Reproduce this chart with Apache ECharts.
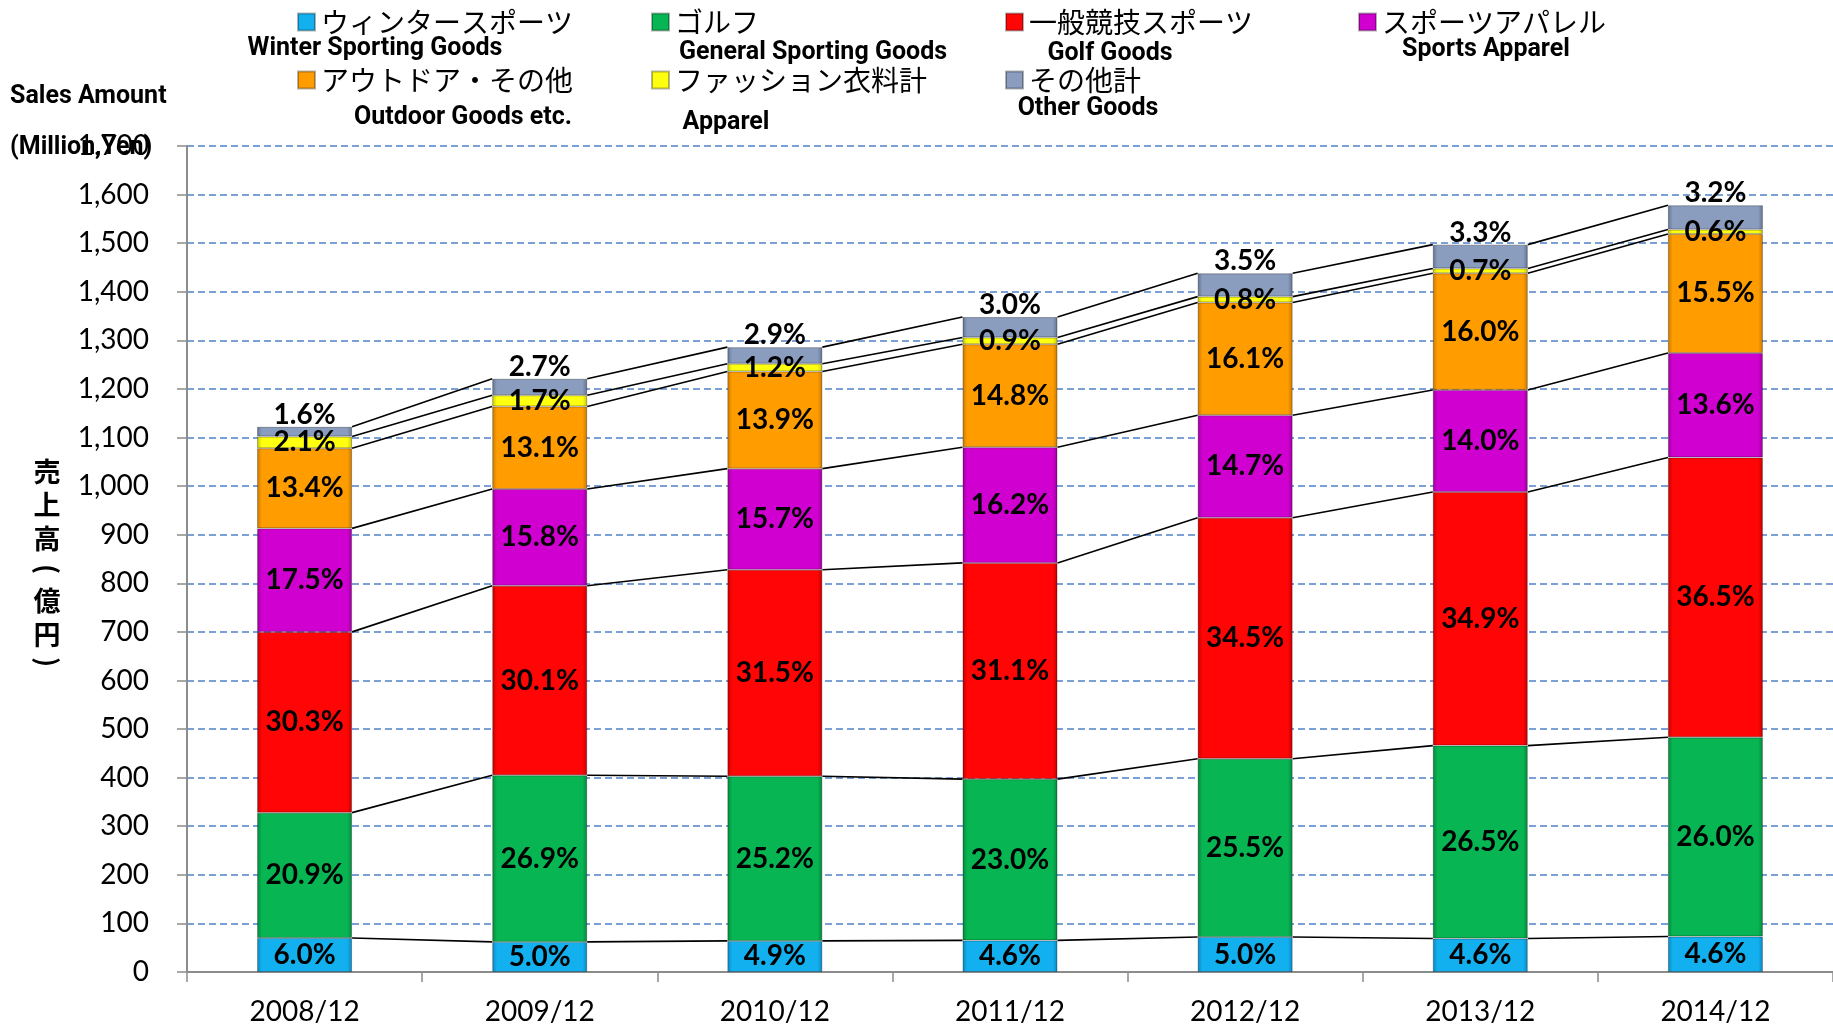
<!DOCTYPE html>
<html>
<head>
<meta charset="utf-8">
<title>売上高推移</title>
<script src="https://cdn.jsdelivr.net/npm/echarts@6/dist/echarts.min.js"></script>
<style>
  html, body { margin: 0; padding: 0; background: #fff; }
  #chart { width: 1833px; height: 1029px; }
</style>
</head>
<body>
<div id="chart"></div>
<script>
// 年度
var years = ['2008/12', '2009/12', '2010/12', '2011/12', '2012/12', '2013/12', '2014/12'];

// 売上高（億円） グラフの高さから読み取り
var winter  = [70, 62, 64, 65, 72, 69, 73];
var golf    = [258, 343, 339, 332, 367, 397, 410];
var general = [372, 390, 425, 445, 496, 522, 576];
var apparel = [213, 199, 208, 238, 211, 210, 215];
var outdoor = [165, 170, 200, 212, 232, 240, 245];
var fashion = [24, 23, 16, 14, 12, 10, 9];
var other   = [20, 34, 34, 42, 48, 49, 50];

// 構成比ラベル（%）
var pctWinter  = [6.0, 5.0, 4.9, 4.6, 5.0, 4.6, 4.6];
var pctGolf    = [20.9, 26.9, 25.2, 23.0, 25.5, 26.5, 26.0];
var pctGeneral = [30.3, 30.1, 31.5, 31.1, 34.5, 34.9, 36.5];
var pctApparel = [17.5, 15.8, 15.7, 16.2, 14.7, 14.0, 13.6];
var pctOutdoor = [13.4, 13.1, 13.9, 14.8, 16.1, 16.0, 15.5];
var pctFashion = [2.1, 1.7, 1.2, 0.9, 0.8, 0.7, 0.6];
var pctOther   = [1.6, 2.7, 2.9, 3.0, 3.5, 3.3, 3.2];

// y軸目盛
var yTicks = [0, 100, 200, 300, 400, 500, 600, 700, 800, 900, 1000, 1100, 1200, 1300, 1400, 1500, 1600, 1700];

var seriesNames = ['ウィンタースポーツ', 'ゴルフ', '一般競技スポーツ', 'スポーツアパレル', 'アウトドア・その他', 'ファッション衣料計', 'その他計'];
var englishNames = ['Winter Sporting Goods', 'General Sporting Goods', 'Golf Goods', 'Sports Apparel', 'Outdoor Goods etc.', 'Apparel', 'Other Goods'];

var values = [winter, golf, general, apparel, outdoor, fashion, other];
var pcts = [pctWinter, pctGolf, pctGeneral, pctApparel, pctOutdoor, pctFashion, pctOther];
var colors = [
  ['#12b0ee', '#0a86c0'],
  ['#07b553', '#05863c'],
  ['#ff0505', '#c20000'],
  ['#d000d0', '#9a009a'],
  ['#ff9d00', '#c97800'],
  ['#ffff10', '#c8c800'],
  ['#8a9dbf', '#62728f']
];

var barWidth = 95;

function bevel(c) {
  return new echarts.graphic.LinearGradient(0, 0, 1, 0, [
    { offset: 0, color: c[1] },
    { offset: 0.05, color: c[0] },
    { offset: 0.95, color: c[0] },
    { offset: 1, color: c[1] }
  ]);
}

var chart = echarts.init(document.getElementById('chart'));

var series = [];
values.forEach(function (arr, k) {
  series.push({
    name: seriesNames[k],
    type: 'bar',
    stack: 'total',
    barWidth: barWidth,
    data: arr,
    itemStyle: { color: bevel(colors[k]), borderColor: 'rgba(0,0,0,0.3)', borderWidth: 1 },
    label: {
      show: true,
      position: k === 6 ? 'top' : 'inside',
      distance: k === 6 ? -2 : 5,
      color: '#000',
      fontFamily: 'Lato',
      fontWeight: 'bold',
      fontSize: 28,
      formatter: function (p) { return pcts[k][p.dataIndex].toFixed(1) + '%'; }
    },
    z: 3
  });
});

// 系列線（各区分の上端を次の棒へ結ぶ）
var lineData = [];
var cum = years.map(function () { return 0; });
values.forEach(function (arr) {
  cum = cum.map(function (c, i) { return c + arr[i]; });
  for (var i = 0; i < years.length - 1; i++) {
    lineData.push([i, cum[i], cum[i + 1]]);
  }
});
series.push({
  type: 'custom',
  silent: true,
  encode: { x: 0, y: 1 },
  data: lineData,
  z: 2,
  renderItem: function (params, api) {
    var i = api.value(0);
    var p1 = api.coord([i, api.value(1)]);
    var p2 = api.coord([i + 1, api.value(2)]);
    return {
      type: 'line',
      shape: { x1: p1[0] + barWidth / 2, y1: p1[1], x2: p2[0] - barWidth / 2, y2: p2[1] },
      style: { stroke: '#000', lineWidth: 1.6 }
    };
  }
});

// 凡例（項目ごとに位置指定）
var legendPos = [[297, 6], [651, 6], [1005, 6], [1358, 6], [297, 64], [651, 64], [1005, 64]];
var legends = seriesNames.map(function (n, k) {
  return {
    data: [n],
    left: legendPos[k][0],
    top: legendPos[k][1],
    padding: 0,
    selectedMode: false,
    icon: 'rect',
    itemWidth: 17,
    itemHeight: 17,
    itemGap: 0,
    textStyle: { fontFamily: 'Noto Sans CJK JP', fontSize: 28, color: '#000', lineHeight: 32, padding: [0, 0, 0, 1] }
  };
});

var engPos = [[375, 49], [813, 53], [1110, 54], [1486, 50], [463, 118], [726, 123], [1088, 109]];
var engFont = 'bold 25px Roboto, "DejaVu Sans", sans-serif';
var graphics = englishNames.map(function (t, k) {
  return {
    type: 'text',
    x: engPos[k][0],
    y: engPos[k][1],
    style: { text: t, font: engFont, fill: '#000', textAlign: 'center', textVerticalAlign: 'middle' }
  };
});
graphics.push({
  type: 'text', x: 10, y: 97,
  style: { text: 'Sales Amount', font: engFont, fill: '#000', textAlign: 'left', textVerticalAlign: 'middle' }
});
graphics.push({
  type: 'text', x: 10, y: 148,
  style: { text: '(Million,Yen)', font: engFont, fill: '#000', textAlign: 'left', textVerticalAlign: 'middle' }
});

// 縦書きの軸タイトル（括弧は90度回転）
var vChars = ['売', '上', '高', '(', '億', '円', ')'];
var vY = [472, 505, 539, 569, 601, 635, 662];
vChars.forEach(function (ch, i) {
  var isParen = ch === '(' || ch === ')';
  graphics.push({
    type: 'text',
    x: 47,
    y: vY[i],
    rotation: isParen ? -Math.PI / 2 : 0,
    style: {
      text: ch,
      font: 'bold 27px "Noto Sans CJK JP"',
      fill: '#000',
      textAlign: 'center',
      textVerticalAlign: 'middle'
    }
  });
});

chart.setOption({
  backgroundColor: '#fff',
  animation: false,
  legend: legends,
  graphic: graphics,
  grid: { left: 187, right: 0, top: 146, bottom: 57 },
  xAxis: {
    type: 'category',
    data: years,
    axisLine: { lineStyle: { color: '#8c8c8c', width: 2 } },
    axisTick: { show: true, length: 10, lineStyle: { color: '#8c8c8c', width: 1.5 } },
    axisLabel: { color: '#000', fontFamily: 'Lato', fontSize: 28, margin: 26 },
    splitLine: { show: false }
  },
  yAxis: {
    type: 'value',
    min: yTicks[0],
    max: yTicks[yTicks.length - 1],
    interval: yTicks[1] - yTicks[0],
    axisLine: { show: true, lineStyle: { color: '#8c8c8c', width: 2 } },
    axisTick: { show: true, length: 10, lineStyle: { color: '#8c8c8c', width: 1.5 } },
    axisLabel: {
      color: '#000', fontFamily: 'Lato', fontSize: 28, margin: 38,
      formatter: function (v) { return v.toLocaleString('en-US'); }
    },
    splitLine: { show: true, lineStyle: { color: '#4f81c7', type: [7, 4], width: 1.5 } }
  },
  series: series
});
</script>
</body>
</html>
